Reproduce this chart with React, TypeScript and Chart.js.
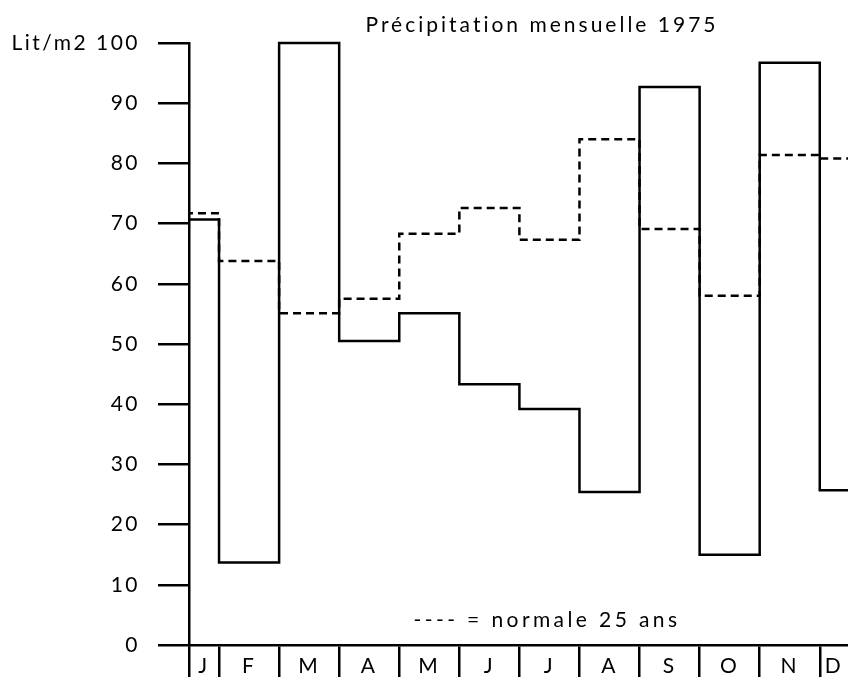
import { useEffect, useRef } from 'react';
import { Chart, registerables } from 'chart.js';

Chart.register(...registerables);

const MONTHS = ['J', 'F', 'M', 'A', 'M', 'J', 'J', 'A', 'S', 'O', 'N', 'D'];
const RAIN_1975 = [70.7, 13.7, 100, 50.5, 55.1, 43.3, 39.2, 25.4, 92.7, 15.0, 96.7, 25.7];
const NORMAL_25 = [71.7, 63.8, 55.1, 57.5, 68.3, 72.6, 67.3, 84.0, 69.1, 58.0, 81.4, 80.8];
const Y_TICKS = [0, 10, 20, 30, 40, 50, 60, 70, 80, 90, 100];
const Y_UNIT = 'Lit/m2';
const TITLE = 'Précipitation mensuelle 1975';
const LEGEND = '---- = normale 25 ans';

const X_MIN = 0.5;
const X_MAX = 11.47;
const FONT = { family: 'Lato', size: 21 };
const INK = '#000';

function toSteps(values: number[]) {
  const pts = values.map((v, i) => ({ x: i, y: v }));
  pts.push({ x: values.length, y: values[values.length - 1] });
  return pts;
}

const textPlugin = {
  id: 'texts',
  beforeDraw(chart: any) {
    chart.ctx.letterSpacing = '2.5px';
  },
  afterDraw(chart: any) {
    const ctx = chart.ctx;
    ctx.save();
    ctx.font = `${FONT.size}px ${FONT.family}`;
    ctx.fillStyle = INK;
    ctx.textAlign = 'center';
    ctx.textBaseline = 'alphabetic';
    ctx.letterSpacing = '3px';
    ctx.fillText(TITLE, 542, 32);
    ctx.letterSpacing = '3.4px';
    ctx.fillText(LEGEND, 547, 627);
    ctx.restore();
  },
};

export default function App() {
  const ref = useRef<HTMLCanvasElement | null>(null);

  useEffect(() => {
    if (!ref.current) return;
    const clip = { left: 0, top: 4, right: 0, bottom: 4 };
    const chart = new Chart(ref.current, {
      type: 'line',
      data: {
        datasets: [
          {
            label: '1975',
            data: toSteps(RAIN_1975),
            borderColor: INK,
            borderWidth: 2.5,
            stepped: 'before',
            pointRadius: 0,
            fill: false,
            clip,
            xAxisID: 'x',
            yAxisID: 'y',
          } as any,
          {
            label: 'normale 25 ans',
            data: toSteps(NORMAL_25),
            borderColor: INK,
            borderWidth: 2.5,
            borderDash: [8, 5],
            stepped: 'before',
            pointRadius: 0,
            fill: false,
            clip,
            xAxisID: 'x',
            yAxisID: 'y',
          } as any,
        ],
      },
      options: {
        responsive: false,
        animation: false,
        layout: { padding: { top: 43, left: 0, right: 0, bottom: 0 } },
        plugins: {
          legend: { display: false },
          title: { display: false },
          tooltip: { enabled: false },
        },
        scales: {
          x: {
            type: 'linear',
            position: 'bottom',
            min: X_MIN,
            max: X_MAX,
            weight: 0,
            afterBuildTicks: (s: any) => {
              const vals = [X_MIN];
              for (let i = 1; i < MONTHS.length; i++) vals.push(i);
              s.ticks = vals.map((v) => ({ value: v }));
            },
            afterFit: (s: any) => {
              s.height = 0;
              s.paddingLeft = 0;
              s.paddingRight = 0;
            },
            ticks: { display: false },
            grid: { drawOnChartArea: false, drawTicks: true, tickLength: 32, lineWidth: 2.5, color: INK },
            border: { display: true, width: 2.5, color: INK },
          },
          xl: {
            type: 'linear',
            position: 'bottom',
            min: X_MIN,
            max: X_MAX,
            weight: 1,
            afterBuildTicks: (s: any) => {
              s.ticks = MONTHS.map((_, i) => ({
                value: (Math.max(i, X_MIN) + Math.min(i + 1, X_MAX)) / 2,
              }));
            },
            afterFit: (s: any) => {
              s.height = 32;
              s.paddingLeft = 0;
              s.paddingRight = 0;
            },
            grid: { display: false, drawTicks: false },
            border: { display: false },
            ticks: {
              callback: (_v: any, i: number) => MONTHS[i],
              font: FONT,
              color: INK,
              padding: 9,
              maxRotation: 0,
              autoSkip: false,
            },
          },
          y: {
            type: 'linear',
            min: 0,
            max: 100,
            afterBuildTicks: (s: any) => {
              s.ticks = Y_TICKS.map((v) => ({ value: v }));
            },
            afterFit: (s: any) => {
              s.width = 189;
              s.paddingTop = 0;
              s.paddingBottom = 0;
            },
            ticks: {
              callback: (v: any) => (v === 100 ? `${Y_UNIT} ${v}` : String(v)),
              font: FONT,
              color: INK,
              padding: 18,
            },
            grid: { drawOnChartArea: false, drawTicks: true, tickLength: 31, lineWidth: 2.5, color: INK },
            border: { width: 2.5, color: INK },
          },
        },
      } as any,
      plugins: [textPlugin],
    });
    return () => chart.destroy();
  }, []);

  return (
    <div style={{ position: 'absolute', left: 0, top: 0, width: 848, height: 677, background: '#fff' }}>
      <canvas ref={ref} width={848} height={677} style={{ display: 'block' }} />
    </div>
  );
}
